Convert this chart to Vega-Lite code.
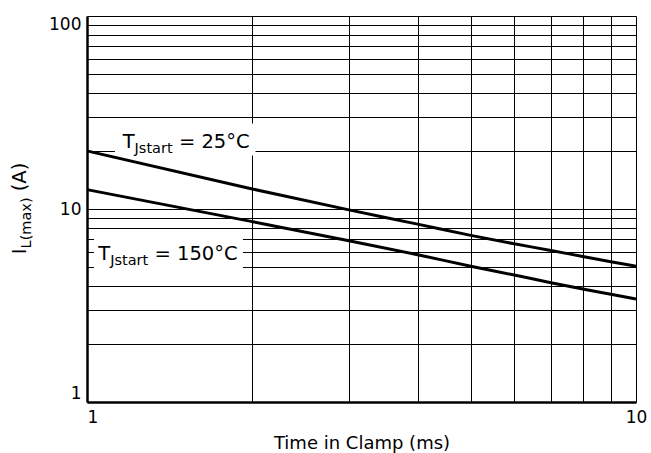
{
  "$schema": "https://vega.github.io/schema/vega-lite/v6.json",
  "width": 549,
  "height": 386,
  "autosize": "none",
  "padding": {"left": 87, "top": 16, "right": 15, "bottom": 51},
  "background": "white",
  "config": {"view": {"stroke": null}, "font": "DejaVu Sans"},
  "datasets": {
    "curves": [
      {"t": 1, "i": 20, "series": "25°C"},
      {"t": 2, "i": 12.7, "series": "25°C"},
      {"t": 3, "i": 9.9, "series": "25°C"},
      {"t": 4, "i": 8.35, "series": "25°C"},
      {"t": 5, "i": 7.3, "series": "25°C"},
      {"t": 6, "i": 6.6, "series": "25°C"},
      {"t": 7, "i": 6.1, "series": "25°C"},
      {"t": 8, "i": 5.67, "series": "25°C"},
      {"t": 9, "i": 5.33, "series": "25°C"},
      {"t": 10, "i": 5.05, "series": "25°C"},
      {"t": 1, "i": 12.6, "series": "150°C"},
      {"t": 2, "i": 8.6, "series": "150°C"},
      {"t": 3, "i": 6.85, "series": "150°C"},
      {"t": 4, "i": 5.8, "series": "150°C"},
      {"t": 5, "i": 5.05, "series": "150°C"},
      {"t": 6, "i": 4.55, "series": "150°C"},
      {"t": 7, "i": 4.15, "series": "150°C"},
      {"t": 8, "i": 3.85, "series": "150°C"},
      {"t": 9, "i": 3.62, "series": "150°C"},
      {"t": 10, "i": 3.42, "series": "150°C"}
    ],
    "labels": [
      {"temp": "= 25°C", "t": 1.1615, "i": 20.7, "t0": 1.1245, "t1": 2.027, "i0": 18.91, "i1": 27.71},
      {"temp": "= 150°C", "t": 1.0485, "i": 5.43, "t0": 1.0298, "t1": 1.9236, "i0": 4.71, "i1": 7.77}
    ],
    "anchor": [{"t": 1, "i": 10}]
  },
  "layer": [
    {
      "data": {"name": "labels"},
      "mark": {"type": "rect", "fill": "white", "stroke": null},
      "encoding": {
        "x": {
          "field": "t0", "type": "quantitative",
          "scale": {"type": "log", "domain": [1, 10], "nice": false},
          "axis": {
            "title": "Time in Clamp (ms)",
            "values": [1, 2, 3, 4, 5, 6, 7, 8, 9, 10],
            "labelExpr": "datum.value == 1 || datum.value == 10 ? '' + datum.value : ''",
            "labelFlush": false,
            "labelAlign": {"condition": {"test": "datum.value == 1", "value": "left"}, "value": "center"},
            "grid": true, "gridColor": "black", "gridOpacity": 1, "gridWidth": 1,
            "ticks": false,
            "domainColor": "black", "domainWidth": 2.5,
            "labelFont": "DejaVu Sans", "labelFontSize": 17, "labelColor": "black", "labelPadding": 7,
            "titleFont": "DejaVu Sans", "titleFontSize": 18, "titleFontWeight": "normal", "titleColor": "black", "titlePadding": 9
          }
        },
        "x2": {"field": "t1"},
        "y": {
          "field": "i0", "type": "quantitative",
          "scale": {"type": "log", "domain": [1, 100], "nice": false},
          "axis": {
            "title": null,
            "values": [1, 2, 3, 4, 5, 6, 7, 8, 9, 10, 20, 30, 40, 50, 60, 70, 80, 90, 100],
            "labelExpr": "datum.value == 1 || datum.value == 10 || datum.value == 100 ? '' + datum.value : ''",
            "labelFlush": true,
            "grid": true, "gridColor": "black", "gridOpacity": 1, "gridWidth": 1,
            "ticks": false,
            "domainColor": "black", "domainWidth": 2.5,
            "labelFont": "DejaVu Sans", "labelFontSize": 17, "labelColor": "black", "labelPadding": 6
          }
        },
        "y2": {"field": "i1"}
      }
    },
    {
      "data": {"name": "curves"},
      "mark": {"type": "line", "stroke": "black", "strokeWidth": 3, "interpolate": "monotone"},
      "encoding": {
        "x": {"field": "t", "type": "quantitative"},
        "y": {"field": "i", "type": "quantitative"},
        "detail": {"field": "series"}
      }
    },
    {
      "data": {"name": "labels"},
      "mark": {"type": "text", "text": "T", "align": "left", "baseline": "alphabetic", "fontSize": 19.5, "font": "DejaVu Sans", "color": "black"},
      "encoding": {
        "x": {"field": "t", "type": "quantitative"},
        "y": {"field": "i", "type": "quantitative"}
      }
    },
    {
      "data": {"name": "labels"},
      "mark": {"type": "text", "text": "Jstart", "align": "left", "baseline": "alphabetic", "fontSize": 14.5, "font": "DejaVu Sans", "color": "black", "dx": 11.9, "dy": 4.5},
      "encoding": {
        "x": {"field": "t", "type": "quantitative"},
        "y": {"field": "i", "type": "quantitative"}
      }
    },
    {
      "data": {"name": "labels"},
      "mark": {"type": "text", "align": "left", "baseline": "alphabetic", "fontSize": 19.5, "font": "DejaVu Sans", "color": "black", "dx": 56.2},
      "encoding": {
        "x": {"field": "t", "type": "quantitative"},
        "y": {"field": "i", "type": "quantitative"},
        "text": {"field": "temp"}
      }
    },
    {
      "data": {"name": "anchor"},
      "mark": {"type": "text", "text": "I", "angle": 270, "align": "left", "baseline": "alphabetic", "fontSize": 19.5, "font": "DejaVu Sans", "color": "black", "dx": -45.2, "dy": -61},
      "encoding": {
        "x": {"field": "t", "type": "quantitative"},
        "y": {"field": "i", "type": "quantitative"}
      }
    },
    {
      "data": {"name": "anchor"},
      "mark": {"type": "text", "text": "L(max)", "angle": 270, "align": "left", "baseline": "alphabetic", "fontSize": 14.5, "font": "DejaVu Sans", "color": "black", "dx": -39.45, "dy": -56.5},
      "encoding": {
        "x": {"field": "t", "type": "quantitative"},
        "y": {"field": "i", "type": "quantitative"}
      }
    },
    {
      "data": {"name": "anchor"},
      "mark": {"type": "text", "text": "(A)", "angle": 270, "align": "left", "baseline": "alphabetic", "fontSize": 19.5, "font": "DejaVu Sans", "color": "black", "dx": 17.7, "dy": -61},
      "encoding": {
        "x": {"field": "t", "type": "quantitative"},
        "y": {"field": "i", "type": "quantitative"}
      }
    }
  ]
}
